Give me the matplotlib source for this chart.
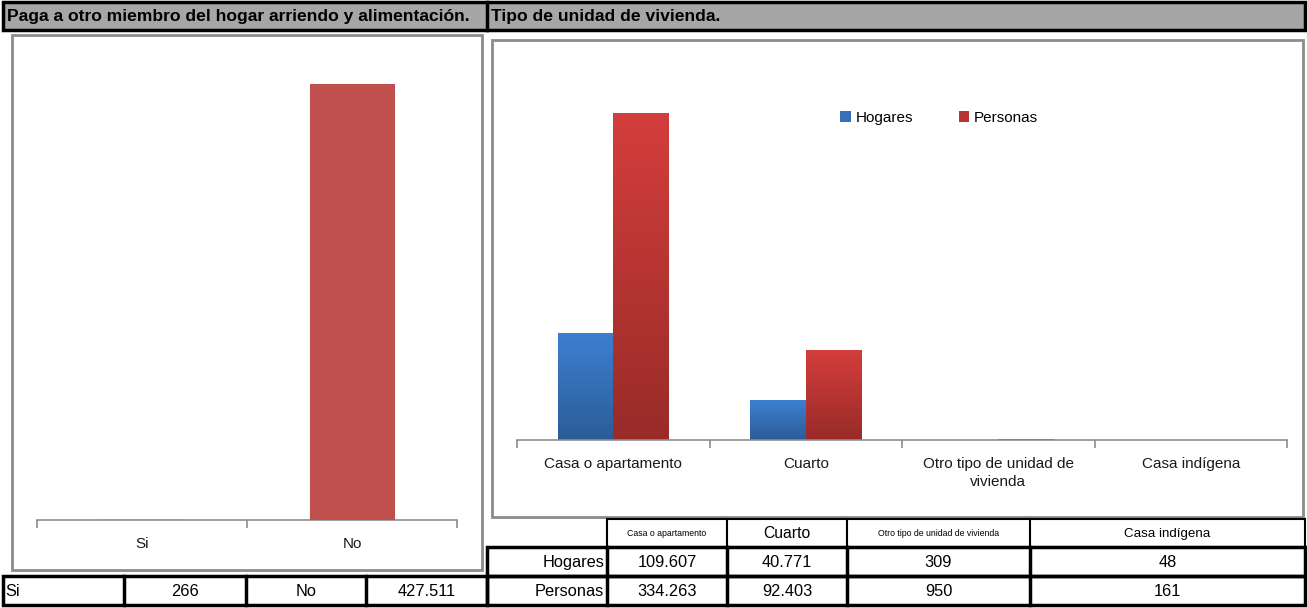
import numpy as np
import matplotlib
matplotlib.use("Agg")
import matplotlib.pyplot as plt
from matplotlib.patches import Rectangle, Patch
from matplotlib.lines import Line2D
from matplotlib.colors import LinearSegmentedColormap
from matplotlib import font_manager

# ---------------- data ----------------
left_title = "Paga a otro miembro del hogar arriendo y alimentación."
right_title = "Tipo de unidad de vivienda."
left_categories = ["Si", "No"]
left_values = [266, 427511]
right_categories = ["Casa o apartamento", "Cuarto",
                    "Otro tipo de unidad de vivienda", "Casa indígena"]
right_ticklabels = ["Casa o apartamento", "Cuarto",
                    "Otro tipo de unidad de\nvivienda", "Casa indígena"]
series_names = ["Hogares", "Personas"]
hogares = [109607, 40771, 309, 48]
personas = [334263, 92403, 950, 161]

# ---------------- fonts ----------------
names = {f.name for f in font_manager.fontManager.ttflist}
HAS_NARROW = "Liberation Sans Narrow" in names
NARROW = ["Liberation Sans Narrow", "Liberation Sans", "DejaVu Sans"] if HAS_NARROW else ["Liberation Sans", "DejaVu Sans"]
NS = 1.0 if HAS_NARROW else 0.84
plt.rcParams["font.family"] = ["Liberation Sans", "DejaVu Sans"]


def fmt(v):
    return f"{v:,}".replace(",", ".")


W, H = 1307, 608
fig = plt.figure(figsize=(W / 100, H / 100), dpi=100)
fig.patch.set_facecolor("white")


def fx(x):
    return x / W


def fy(y):
    return 1 - y / H


def frect(x0, y0, x1, y1, **kw):
    r = Rectangle((fx(x0), fy(y1)), (x1 - x0) / W, (y1 - y0) / H,
                  transform=fig.transFigure, figure=fig, **kw)
    fig.patches.append(r)
    return r


def fline(x0, y0, x1, y1, **kw):
    l = Line2D([fx(x0), fx(x1)], [fy(y0), fy(y1)], transform=fig.transFigure, **kw)
    fig.add_artist(l)
    return l


def ftext(x, y, s, **kw):
    return fig.text(fx(x), fy(y), s, **kw)


# ---------------- header ----------------
frect(3, 2, 1305, 30, facecolor="#a6a6a6", edgecolor="black", lw=2.5, zorder=1)
fline(487, 2, 487, 30, color="black", lw=2.5, zorder=2)
ftext(7, 16, left_title, family=NARROW, fontweight="bold", fontsize=15 * NS,
      va="center", ha="left")
ftext(491, 16, right_title, family=NARROW, fontweight="bold", fontsize=15 * NS,
      va="center", ha="left")

# chart boxes (with a soft shadow)
frect(14, 37, 484, 572, facecolor="#e4e4e4", edgecolor="none", zorder=-2)
frect(494, 42, 1305, 519, facecolor="#e4e4e4", edgecolor="none", zorder=-2)
frect(12, 35, 482, 570, facecolor="white", edgecolor="#8c8c8c", lw=2, zorder=-1)
frect(492, 40, 1303, 517, facecolor="white", edgecolor="#8c8c8c", lw=2, zorder=-1)


def gradient_bars(ax, bars, top_color, bottom_color):
    cmap = LinearSegmentedColormap.from_list("g", [bottom_color, top_color])
    grad = np.linspace(0, 1, 256).reshape(-1, 1)
    for b in bars:
        x, y = b.get_xy()
        w, h = b.get_width(), b.get_height()
        if h <= 0:
            continue
        im = ax.imshow(grad, extent=[x, x + w, y, y + h], origin="lower",
                       cmap=cmap, aspect="auto", zorder=b.get_zorder() + 0.1,
                       interpolation="bilinear")
        im.set_clip_path(b)


def style_axis(ax, n):
    for s in ["top", "left", "right"]:
        ax.spines[s].set_visible(False)
    ax.spines["bottom"].set_color("#8c8c8c")
    ax.spines["bottom"].set_linewidth(1.2)
    ax.set_yticks([])
    ax.set_xlim(-0.5, n - 0.5)
    ax.set_xticks(np.arange(n))
    ax.set_xticks(np.arange(n + 1) - 0.5, minor=True)
    ax.tick_params(axis="x", which="major", length=0, pad=12, labelsize=11,
                   labelcolor="#1a1a1a")
    ax.tick_params(axis="x", which="minor", length=6, width=1.2,
                   color="#8c8c8c", direction="out")
    ax.patch.set_alpha(0)
    ax.set_zorder(2)


# ---------------- left chart ----------------
axL = fig.add_axes([fx(37), fy(520), 420 / W, (450000 / 427511 * 436) / H])
xl = np.arange(len(left_categories))
left_colors = ["#4f81bd", "#c0504d"]
axL.bar(xl, left_values, width=0.4, color=left_colors, edgecolor=left_colors,
        linewidth=0.8, zorder=3)
axL.set_ylim(0, 450000)
style_axis(axL, len(left_categories))
axL.set_xticklabels(left_categories)

# ---------------- right chart ----------------
axR = fig.add_axes([fx(517), fy(440), 770 / W, (380000 / 334263 * 327) / H])
xr = np.arange(len(right_categories))
bw = 0.288
bh = axR.bar(xr - bw / 2, hogares, width=bw, color="#3570b8", zorder=2)
bp = axR.bar(xr + bw / 2, personas, width=bw, color="#b83431", zorder=2)
gradient_bars(axR, bh, "#3d80d0", "#2b5c98")
gradient_bars(axR, bp, "#d43e3c", "#982b28")
axR.set_ylim(0, 380000)
style_axis(axR, len(right_categories))
axR.set_xlim(-0.5, len(right_categories) - 0.5)
axR.set_xticklabels(right_ticklabels)
for t in axR.get_xticklabels():
    t.set_linespacing(1.35)
    t.set_va("top")

leg_handles = [Patch(facecolor="#3570b8"), Patch(facecolor="#b83431")]
axR.legend(leg_handles, series_names, loc="upper left",
           bbox_to_anchor=(fx(840), fy(111)), bbox_transform=fig.transFigure,
           ncol=2, frameon=False, fontsize=11, handlelength=0.7,
           handleheight=0.7, handletextpad=0.3, columnspacing=3.0,
           borderaxespad=0, borderpad=0)

# ---------------- left table ----------------
LW = 2.5
ty0, ty1 = 576, 605
frect(3, ty0, 487, ty1, facecolor="white", edgecolor="black", lw=LW, zorder=3)
for xv in [124, 246, 366]:
    fline(xv, ty0, xv, ty1, color="black", lw=LW, zorder=4)
tyc = (ty0 + ty1) / 2 + 1
ftext(5, tyc, left_categories[0], family=NARROW, fontsize=14 * NS, va="center", ha="left")
ftext(185, tyc, fmt(left_values[0]), family=NARROW, fontsize=14 * NS, va="center", ha="center")
ftext(306, tyc, left_categories[1], family=NARROW, fontsize=14 * NS, va="center", ha="center")
ftext(427, tyc, fmt(left_values[1]), family=NARROW, fontsize=14 * NS, va="center", ha="center")

# ---------------- right table ----------------
cols = [607, 727, 847, 1030, 1305]
hy0, hy1, ry1, ry2 = 519, 547, 576, 605
frect(cols[0], hy0, cols[-1], hy1, facecolor="white", edgecolor="black", lw=1.5, zorder=3)
for xv in cols[1:-1]:
    fline(xv, hy0, xv, hy1, color="black", lw=1.5, zorder=4)
frect(487, hy1, cols[-1], ry1, facecolor="none", edgecolor="black", lw=LW, zorder=4)
frect(487, ry1, cols[-1], ry2, facecolor="none", edgecolor="black", lw=LW, zorder=4)
for xv in cols[:-1]:
    fline(xv, hy1, xv, ry2, color="black", lw=LW, zorder=4)

head_sizes = [7.5, 13.5, 7.5, 11.5]
for i, cat in enumerate(right_categories):
    cx = (cols[i] + cols[i + 1]) / 2
    ftext(cx, (hy0 + hy1) / 2 + 1, cat, family=NARROW, fontsize=head_sizes[i] * NS,
          va="center", ha="center", zorder=5)
for row, (name, vals) in enumerate(zip(series_names, [hogares, personas])):
    yc = [(hy1 + ry1) / 2, (ry1 + ry2) / 2][row] + 1
    ftext(604, yc, name, family=NARROW, fontsize=14 * NS, va="center", ha="right", zorder=5)
    for i, v in enumerate(vals):
        cx = (cols[i] + cols[i + 1]) / 2
        ftext(cx, yc, fmt(v), family=NARROW, fontsize=14 * NS, va="center",
              ha="center", zorder=5)

fig.savefig("out.png", dpi=100, facecolor="white")
